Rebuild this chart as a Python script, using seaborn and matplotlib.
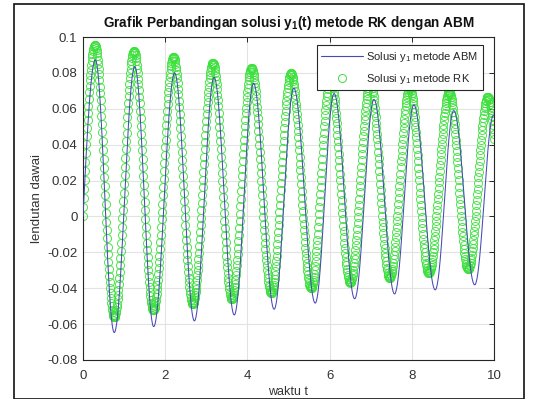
import numpy as np
import pandas as pd
import matplotlib
matplotlib.use("Agg")
import matplotlib.pyplot as plt
import seaborn as sns
from matplotlib.lines import Line2D
from matplotlib.patches import Rectangle

# ---- data (extrema of each solution) ----
rk_ext_t = [0.29, 0.76, 1.24, 1.71, 2.20, 2.67, 3.16, 3.62, 4.10, 4.58, 5.06,
            5.55, 6.02, 6.50, 6.99, 7.46, 7.95, 8.41, 8.91, 9.37, 9.85, 10.30]
rk_ext_v = [0.0955, -0.0562, 0.0924, -0.0521, 0.0890, -0.0489, 0.0856, -0.0461,
            0.0826, -0.0428, 0.0798, -0.0400, 0.0772, -0.0369, 0.0745, -0.0344,
            0.0720, -0.0316, 0.0695, -0.0294, 0.0667, -0.0270]
abm_ext_t = [0.30, 0.76, 1.26, 1.72, 2.23, 2.71, 3.19, 3.68, 4.15, 4.65, 5.13,
             5.65, 6.11, 6.61, 7.08, 7.58, 8.05, 8.57, 9.02, 9.53, 9.99, 10.45]
abm_ext_v = [0.0872, -0.0647, 0.0835, -0.0614, 0.0800, -0.0582, 0.0775, -0.0549,
             0.0742, -0.0517, 0.0714, -0.0483, 0.0685, -0.0459, 0.0652, -0.0432,
             0.0622, -0.0409, 0.0590, -0.0381, 0.0565, -0.0360]
t_start, t_end, t_step = 0.0, 10.0, 0.01
xticks = [0, 2, 4, 6, 8, 10]
yticks = [-0.08, -0.06, -0.04, -0.02, 0, 0.02, 0.04, 0.06, 0.08, 0.1]
ytick_labels = ["-0.08", "-0.06", "-0.04", "-0.02", "0", "0.02", "0.04", "0.06", "0.08", "0.1"]
title = r"Grafik Perbandingan solusi $\mathbf{y_1}$(t) metode RK dengan ABM"
labels = [r"Solusi y$_1$ metode ABM", r"Solusi y$_1$ metode RK"]


def curve_through(ext_t, ext_v, t):
    """Smooth curve through read extrema (sine rise from 0, cosine between extrema)."""
    out = np.empty_like(t)
    for i, ti in enumerate(t):
        if ti <= ext_t[0]:
            out[i] = ext_v[0] * np.sin(np.pi / 2 * ti / ext_t[0])
            continue
        k = np.searchsorted(ext_t, ti) - 1
        k = min(k, len(ext_t) - 2)
        a, b = ext_t[k], ext_t[k + 1]
        va, vb = ext_v[k], ext_v[k + 1]
        ph = np.pi * (ti - a) / (b - a)
        out[i] = (va + vb) / 2 + (va - vb) / 2 * np.cos(ph)
    return out


t = np.round(np.arange(t_start, t_end + t_step / 2, t_step), 4)
df = pd.DataFrame({
    "t": t,
    "abm": curve_through(abm_ext_t, abm_ext_v, t),
    "rk": curve_through(rk_ext_t, rk_ext_v, t),
})

sns.set_theme(style="white")
plt.rcParams["font.family"] = ["Liberation Sans", "DejaVu Sans"]
plt.rcParams["mathtext.fontset"] = "custom"
plt.rcParams["mathtext.rm"] = "Liberation Sans"
plt.rcParams["mathtext.it"] = "Liberation Sans"
plt.rcParams["mathtext.bf"] = "Liberation Sans:bold"

fig = plt.figure(figsize=(5.40, 3.99), dpi=100)
fig.patch.set_facecolor("white")
ax = fig.add_axes([83 / 540, 1 - 360 / 399, (494 - 83) / 540, (360 - 37) / 399])

blue = "#4848b8"
green = "#3ee03e"
sns.lineplot(data=df, x="t", y="abm", ax=ax, color=blue, linewidth=0.75,
             sort=False, estimator=None, zorder=3)
sns.lineplot(data=df, x="t", y="rk", ax=ax, color=green, linestyle="",
             marker="o", markersize=5.8, markerfacecolor="none",
             markeredgecolor=green, markeredgewidth=0.7, alpha=0.9,
             sort=False, estimator=None, zorder=2)

ax.set_xlim(0, 10)
ax.set_ylim(-0.08, 0.1)
ax.set_xticks(xticks)
ax.set_xticklabels([str(v) for v in xticks])
ax.set_yticks(yticks)
ax.set_yticklabels(ytick_labels)
ax.grid(True, color="#e3e3e3", linewidth=0.8)
ax.set_axisbelow(True)
axcol = "#262626"
for s in ax.spines.values():
    s.set_color(axcol)
    s.set_linewidth(0.8)
ax.tick_params(axis="both", direction="in", length=3.5, width=0.7, colors=axcol,
               labelsize=9.5, top=True, right=True)
ax.tick_params(axis="x", pad=7)
ax.tick_params(axis="y", pad=4)
for lab in ax.get_xticklabels() + ax.get_yticklabels():
    lab.set_color("#333333")

ax.set_xlabel("waktu t", fontsize=9, color="#333333", labelpad=3)
ax.set_ylabel("lendutan dawai", fontsize=9.5, color="#333333", labelpad=3)
ax.set_title(title, fontsize=9.8, fontweight="bold", color="#111111", pad=7)

handles = [
    Line2D([], [], color=blue, linewidth=0.8),
    Line2D([], [], color=green, linestyle="", marker="o", markersize=5.8,
           markerfacecolor="none", markeredgewidth=0.7),
]
leg = ax.legend(handles, labels, loc="upper right", bbox_to_anchor=(0.973, 0.975),
                borderaxespad=0, fontsize=8, frameon=True, fancybox=False,
                framealpha=1, edgecolor="#262626", handlelength=3.7,
                borderpad=0.4, labelspacing=0.75, handletextpad=0.35)
leg.get_frame().set_linewidth(0.8)

fig.patches.append(Rectangle((14 / 540, 0), (524 - 14) / 540, 1 - 4 / 399,
                             transform=fig.transFigure, fill=False,
                             edgecolor="#111111", linewidth=1.2))

fig.savefig("out.png", dpi=100)
